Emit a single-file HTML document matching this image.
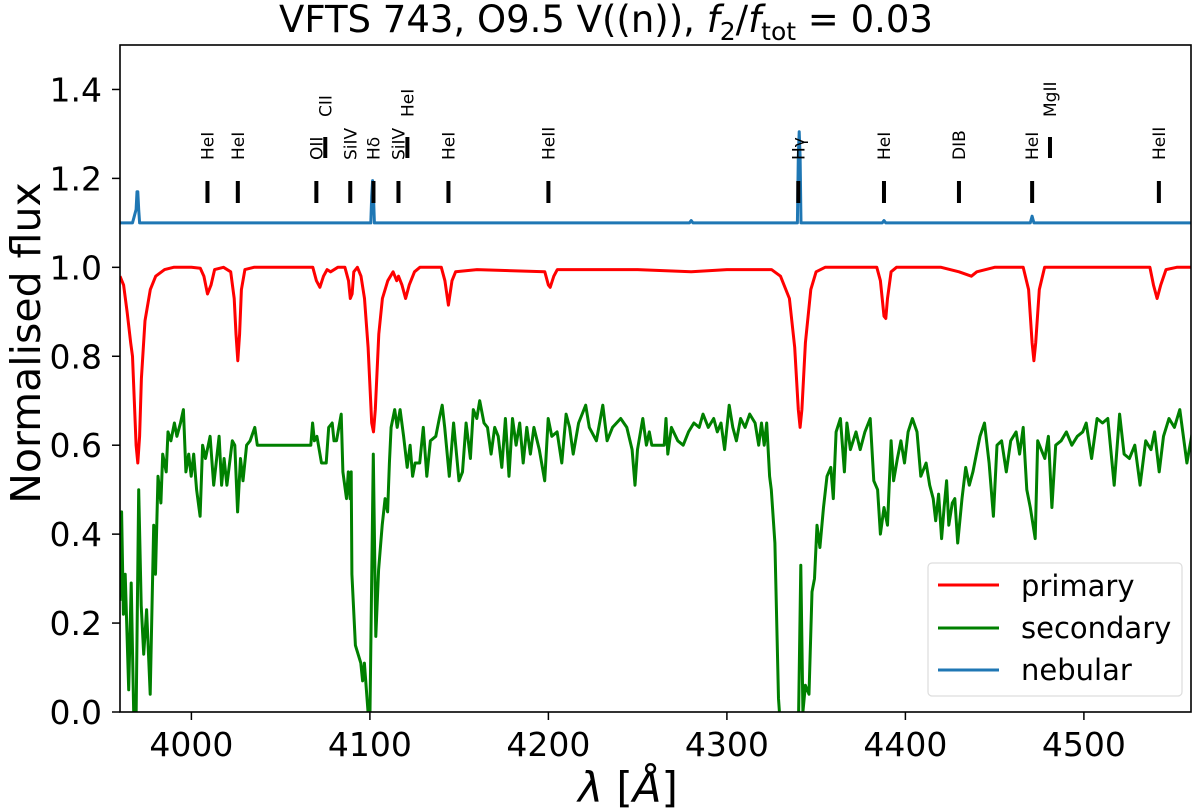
<!DOCTYPE html>
<html><head><meta charset="utf-8">
<style>
body{margin:0;background:#fff;}
svg{display:block;font-family:"DejaVu Sans","Liberation Sans",sans-serif;}
</style></head>
<body>
<svg id="chart" width="1200" height="812" viewBox="0 0 1200 812" xmlns="http://www.w3.org/2000/svg">
<defs><clipPath id="clip"><rect x="120" y="45" width="1071" height="667"/></clipPath></defs>
<text x="606" y="32" font-size="37" text-anchor="middle">VFTS 743, O9.5 V((n)), <tspan font-style="italic">f</tspan><tspan font-size="25" dy="8">2</tspan><tspan dy="-8">/</tspan><tspan font-style="italic">f</tspan><tspan font-size="25" dy="8">tot</tspan><tspan dy="-8"> = 0.03</tspan></text>
<text transform="translate(40,343) rotate(-90)" font-size="41" text-anchor="middle">Normalised flux</text>
<text x="628" y="802" font-size="42" text-anchor="middle"><tspan font-style="italic">λ</tspan> [<tspan font-style="italic">Å</tspan>]</text>
<g id="axes"></g>
<g id="series" clip-path="url(#clip)"></g>
<g id="markers"></g>
<rect x="120" y="45" width="1071" height="667" fill="none" stroke="#000" stroke-width="1.6"/>
<g>
<rect x="928" y="563" width="254" height="133" rx="4" fill="#fff" fill-opacity="0.85" stroke="#ddd" stroke-width="1.2"/>
<g><line x1="938" y1="585" x2="999" y2="585" stroke="#ff0000" stroke-width="3"/><text x="1021" y="596" font-size="29">primary</text></g>
<g><line x1="938" y1="628" x2="999" y2="628" stroke="#008000" stroke-width="3"/><text x="1021" y="638" font-size="29">secondary</text></g>
<g><line x1="938" y1="670" x2="999" y2="670" stroke="#1f77b4" stroke-width="3"/><text x="1021" y="680" font-size="29">nebular</text></g>
</g>
</svg>
<script>
const xTicks=[4000,4100,4200,4300,4400,4500];
const yTicks=[0.0,0.2,0.4,0.6,0.8,1.0,1.2,1.4];
const primWl=[3960,3962,3964,3966,3967,3968,3969,3970,3971,3972,3974,3977,3980,3985,3990,4000,4005,4007,4009,4011,4013,4018,4022,4024,4025,4026,4027,4028,4030,4035,4068,4070,4072,4074,4076,4078,4082,4086,4088,4089,4090,4091,4093,4095,4097,4099,4101,4102,4103,4105,4107,4110,4113,4115,4116,4118,4120,4122,4125,4128,4140,4142,4144,4146,4148,4160,4198,4200,4201,4203,4205,4250,4280,4300,4325,4330,4335,4338,4340,4341,4342,4344,4347,4350,4355,4384,4386,4388,4389,4390,4392,4395,4420,4430,4437,4440,4450,4466,4469,4471,4472,4473,4475,4478,4537,4539,4541,4543,4546,4552,4560];
const primFlux=[0.98,0.96,0.9,0.83,0.8,0.7,0.6,0.56,0.62,0.75,0.88,0.95,0.98,0.995,1.0,1.0,0.998,0.98,0.94,0.96,0.995,1.0,0.99,0.93,0.85,0.79,0.85,0.95,0.995,1.0,1.0,0.97,0.955,0.98,0.995,0.99,1.0,1.0,0.97,0.93,0.94,0.99,1.0,0.98,0.93,0.82,0.65,0.63,0.68,0.85,0.93,0.97,0.99,0.97,0.98,0.96,0.93,0.96,0.99,1.0,1.0,0.97,0.915,0.97,0.99,0.995,0.99,0.96,0.955,0.98,0.995,0.995,0.99,0.995,0.995,0.98,0.93,0.82,0.68,0.64,0.68,0.83,0.95,0.99,1.0,1.0,0.97,0.89,0.885,0.93,0.99,1.0,1.0,0.99,0.98,0.99,1.0,1.0,0.95,0.83,0.79,0.83,0.95,1.0,1.0,0.96,0.93,0.96,0.995,1.0,1.0];
const secWl=[3960,3960.9,3961.9,3962.9,3964.9,3966.3,3967.9,3968.9,3970.5,3971.9,3973.3,3974.9,3976.9,3978.9,3979.9,3981.3,3982.9,3983.9,3985.9,3986.9,3988.5,3990.5,3991.9,3993.9,3995.5,3996.9,3998.5,3999.9,4001.3,4002.9,4004.9,4006.3,4007.9,4010.5,4012.5,4015.5,4016.9,4018.3,4019.9,4022.9,4024.3,4025.9,4027.5,4028.9,4030.9,4032.9,4035.5,4036.9,4066.9,4067.9,4068.9,4070.3,4072.9,4075.5,4076.9,4078.9,4079.9,4081.3,4083.9,4084.9,4086.9,4087.9,4088.9,4089.5,4089.9,4091.9,4094.9,4095.9,4096.9,4099.9,4101.9,4103.3,4104.9,4106.9,4108.5,4109.9,4110.9,4111.9,4113.9,4115.3,4116.9,4118.9,4120.9,4122.5,4123.9,4125.3,4127.9,4129.9,4131.9,4133.9,4136.9,4138.9,4140.5,4141.9,4144.5,4146.9,4149.9,4151.9,4153.9,4156.3,4157.9,4159.9,4161.5,4163.9,4165.9,4167.9,4169.9,4171.9,4173.9,4175.9,4177.9,4179.9,4181.9,4183.9,4185.9,4187.9,4189.9,4191.9,4194.9,4197.9,4199.9,4201.9,4204.9,4207.5,4209.9,4211.9,4213.9,4216.9,4220.9,4222.9,4226.9,4230.5,4232.9,4235.9,4240.5,4243.9,4246.9,4248.5,4249.9,4252.9,4254.9,4256.5,4257.9,4264.9,4265.9,4266.9,4268.9,4272.5,4275.5,4278.5,4281.5,4284.5,4286.6,4289.6,4292.6,4294.6,4296.7,4298.7,4301.3,4303.3,4305.3,4307.7,4310.2,4312.8,4315.8,4317.8,4319.4,4320.9,4322.3,4323.9,4324.9,4326.9,4328.9,4330.3,4340,4341.4,4342.6,4344,4346,4347.7,4349.1,4350.5,4352.1,4354.1,4356.1,4358.2,4359.6,4361.2,4363.6,4365.8,4367.2,4369.2,4372.3,4374.7,4377.3,4380.3,4382.3,4384.4,4386,4388,4390,4392,4393.4,4395.5,4397.5,4399.5,4401.5,4403.9,4406.5,4408.6,4411.6,4413.6,4415.6,4417,4418.6,4420.3,4421.7,4423.1,4424.3,4426.3,4427.7,4429.3,4431.7,4433.8,4435.8,4437.8,4439.8,4441.8,4444.3,4446.9,4449.3,4451.3,4453.9,4456.5,4459,4462,4464,4466,4468,4470,4472.7,4474.1,4476.1,4478.1,4480.1,4482.1,4484.2,4487.2,4490.2,4493.2,4496.3,4499.3,4501.3,4504.3,4507.4,4510.4,4513.4,4517,4520,4522.5,4525.5,4528.5,4531.5,4534.6,4537.6,4539.6,4542.2,4544.6,4547.7,4550.7,4553.7,4557.7,4560.8];
const secFlux=[0.25,0.45,0.22,0.31,0.05,0.29,-0.05,-0.05,0.5,0.24,0.13,0.23,0.04,0.42,0.31,0.53,0.47,0.58,0.54,0.63,0.61,0.65,0.62,0.65,0.68,0.54,0.58,0.53,0.58,0.5,0.44,0.6,0.57,0.62,0.51,0.62,0.51,0.57,0.51,0.61,0.6,0.45,0.57,0.52,0.6,0.61,0.64,0.6,0.6,0.65,0.61,0.62,0.56,0.56,0.64,0.65,0.61,0.61,0.67,0.54,0.48,0.54,0.48,0.54,0.31,0.15,0.11,0.07,0.11,-0.05,0.58,0.17,0.32,0.42,0.48,0.45,0.56,0.64,0.68,0.64,0.68,0.62,0.55,0.6,0.53,0.56,0.56,0.64,0.53,0.61,0.62,0.66,0.69,0.64,0.53,0.65,0.52,0.54,0.65,0.57,0.68,0.66,0.7,0.65,0.64,0.58,0.64,0.62,0.55,0.66,0.53,0.66,0.6,0.65,0.56,0.64,0.58,0.64,0.59,0.52,0.66,0.62,0.63,0.56,0.67,0.64,0.58,0.65,0.69,0.64,0.61,0.69,0.61,0.64,0.66,0.64,0.59,0.51,0.59,0.66,0.6,0.63,0.6,0.6,0.66,0.58,0.64,0.61,0.6,0.63,0.65,0.64,0.67,0.64,0.66,0.63,0.65,0.59,0.69,0.64,0.61,0.66,0.64,0.67,0.65,0.6,0.65,0.6,0.65,0.53,0.5,0.38,0.03,-0.05,-0.05,0.33,0.0,0.06,0.04,0.27,0.3,0.42,0.37,0.46,0.53,0.55,0.48,0.63,0.66,0.54,0.65,0.59,0.63,0.59,0.63,0.66,0.52,0.5,0.4,0.46,0.42,0.61,0.52,0.57,0.61,0.56,0.63,0.66,0.63,0.53,0.56,0.51,0.48,0.43,0.49,0.39,0.46,0.52,0.42,0.47,0.48,0.38,0.48,0.55,0.51,0.54,0.58,0.62,0.65,0.56,0.44,0.6,0.61,0.54,0.61,0.63,0.58,0.64,0.5,0.46,0.39,0.61,0.59,0.57,0.62,0.46,0.6,0.61,0.63,0.6,0.62,0.63,0.65,0.57,0.66,0.65,0.66,0.51,0.67,0.58,0.57,0.6,0.51,0.61,0.59,0.63,0.54,0.62,0.66,0.64,0.68,0.56,0.63];
const nebWl=[3960,3967,3968,3969,3969.5,3970,3970.5,3971,4100.5,4101,4101.5,4102,4102.5,4279,4280,4281,4339.5,4340,4340.5,4341,4341.5,4387,4388,4389,4470,4471,4472,4560];
const nebFlux=[1.1,1.1,1.115,1.13,1.17,1.17,1.13,1.1,1.1,1.16,1.195,1.16,1.1,1.1,1.105,1.1,1.1,1.25,1.305,1.25,1.1,1.1,1.105,1.1,1.1,1.115,1.1,1.1];
const lineWl=[4009,4026,4070,4075,4089,4102,4116,4121,4144,4200,4340,4388,4430,4471,4481,4542];
const lineLabel=["HeI","HeI","OII","CII","SiIV","Hδ","SiIV","HeI","HeI","HeII","Hγ","HeI","DIB","HeI","MgII","HeII"];
const lineRaised=[0,0,0,1,0,0,0,1,0,0,0,0,0,0,1,0];

const NS='http://www.w3.org/2000/svg';
const X0=3960,X1=4560,PX0=120,PX1=1191,Y0=0,Y1=1.5,PY0=712,PY1=45;
function sx(v){return PX0+(v-X0)/(X1-X0)*(PX1-PX0);}
function sy(v){return PY0-(v-Y0)/(Y1-Y0)*(PY0-PY1);}
function mk(tag,attrs,parent){const e=document.createElementNS(NS,tag);for(const k in attrs)e.setAttribute(k,attrs[k]);parent.appendChild(e);return e;}
const axes=document.getElementById('axes');
xTicks.forEach(t=>{
  const l=mk('line',{x1:sx(t),x2:sx(t),y1:PY0,y2:PY0+8,stroke:'#000','stroke-width':1.5},axes);
  
  
  const tx=mk('text',{x:sx(t),y:PY0+44,'font-size':33,'text-anchor':'middle'},axes);
  tx.textContent=t;
  
  
});
yTicks.forEach(t=>{
  const l=mk('line',{x1:PX0-8,x2:PX0,y1:sy(t),y2:sy(t),stroke:'#000','stroke-width':1.5},axes);
  
  
  const tx=mk('text',{x:PX0-18,y:sy(t)+12,'font-size':33,'text-anchor':'end'},axes);
  tx.textContent=t.toFixed(1);
  
  
});
const series=document.getElementById('series');
function drawLine(wl,fl,color,name){
  const d=wl.map((w,i)=>(i?'L':'M')+sx(w).toFixed(1)+','+sy(fl[i]).toFixed(1)).join('');
  const p=mk('path',{d:d,fill:'none',stroke:color,'stroke-width':3,'stroke-linejoin':'round'},series);
  
  
}
drawLine(secWl,secFlux,'#008000','secondary-spectrum');
drawLine(primWl,primFlux,'#ff0000','primary-spectrum');
drawLine(nebWl,nebFlux,'#1f77b4','nebular-spectrum');
const markers=document.getElementById('markers');
lineWl.forEach((w,i)=>{
  const x=sx(w);
  const r=lineRaised[i];
  const y1=r?137:181,y2=r?158:203,ly=r?117:160;
  const l=mk('line',{x1:x,x2:x,y1:y1,y2:y2,stroke:'#000','stroke-width':4},markers);
  
  
  const t=mk('text',{transform:'translate('+(x+6)+','+ly+') rotate(-90)','font-size':17},markers);
  t.textContent=lineLabel[i];
  
  
});
</script>
</body></html>
